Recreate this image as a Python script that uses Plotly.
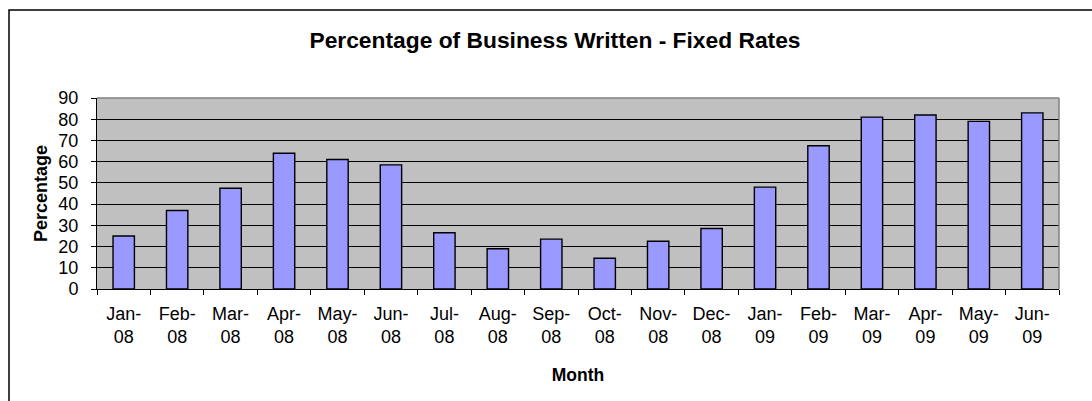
import plotly.graph_objects as go

months = ["Jan-08", "Feb-08", "Mar-08", "Apr-08", "May-08", "Jun-08", "Jul-08", "Aug-08", "Sep-08",
          "Oct-08", "Nov-08", "Dec-08", "Jan-09", "Feb-09", "Mar-09", "Apr-09", "May-09", "Jun-09"]
percentages = [25, 37, 47.5, 64, 61, 58.5, 26.5, 19, 23.5, 14.5, 22.5, 28.5, 48, 67.5, 81, 82, 79, 83]
tick_labels = [m.replace("-", "-<br>") for m in months]
y_ticks = list(range(0, 91, 10))

W, H = 1092, 401
ML, MR, MT, MB = 97, 33, 98, 112
pw, ph = W - ML - MR, H - MT - MB

fig = go.Figure()
fig.add_trace(go.Bar(
    x=months, y=percentages,
    marker=dict(color="#9999FF", line=dict(color="black", width=1.4)),
    width=0.4,
))

font = "Liberation Sans, Arial, sans-serif"
fig.update_layout(
    width=W, height=H,
    margin=dict(l=ML, r=MR, t=MT, b=MB),
    paper_bgcolor="white",
    plot_bgcolor="#C0C0C0",
    showlegend=False,
    font=dict(family=font, size=18, color="black"),
    title=dict(text="<b>Percentage of Business Written - Fixed Rates</b>",
               x=(555 - ML) / pw, xref="paper", xanchor="center",
               y=1 - 40 / H, yanchor="middle",
               font=dict(size=22.8, family=font, color="black")),
    xaxis=dict(
        type="category", tickvals=months, ticktext=tick_labels,
        tickson="boundaries", ticks="outside", ticklen=5, tickcolor="black", tickwidth=1,
        showline=True, linecolor="black", linewidth=1,
        showgrid=False, tickangle=0,
        ticklabelstandoff=8,
        title=dict(text="<b>Month</b>", font=dict(size=17.5), standoff=22),
    ),
    yaxis=dict(
        range=[0, 90], tickvals=y_ticks,
        ticks="outside", ticklen=5, tickcolor="black", tickwidth=1,
        showline=True, linecolor="black", linewidth=1,
        showgrid=True, gridcolor="black", gridwidth=1, zeroline=False,
        ticklabelstandoff=9,
        title=dict(text="<b>Percentage</b>", font=dict(size=18), standoff=6),
    ),
    shapes=[
        # plot-area top/right border (gray)
        dict(type="line", xref="paper", yref="paper", x0=0, x1=1, y0=1, y1=1,
             line=dict(color="#808080", width=1.5), layer="above"),
        dict(type="line", xref="paper", yref="paper", x0=1, x1=1, y0=0, y1=1,
             line=dict(color="#808080", width=1.5), layer="above"),
        # outer chart frame
        dict(type="rect", xref="paper", yref="paper",
             x0=(9 - ML) / pw, x1=1.2, y0=-1.0, y1=(H - MB - 10) / ph,
             line=dict(color="black", width=1.5), fillcolor="rgba(0,0,0,0)", layer="above"),
    ],
)

fig.write_html("out.html")
